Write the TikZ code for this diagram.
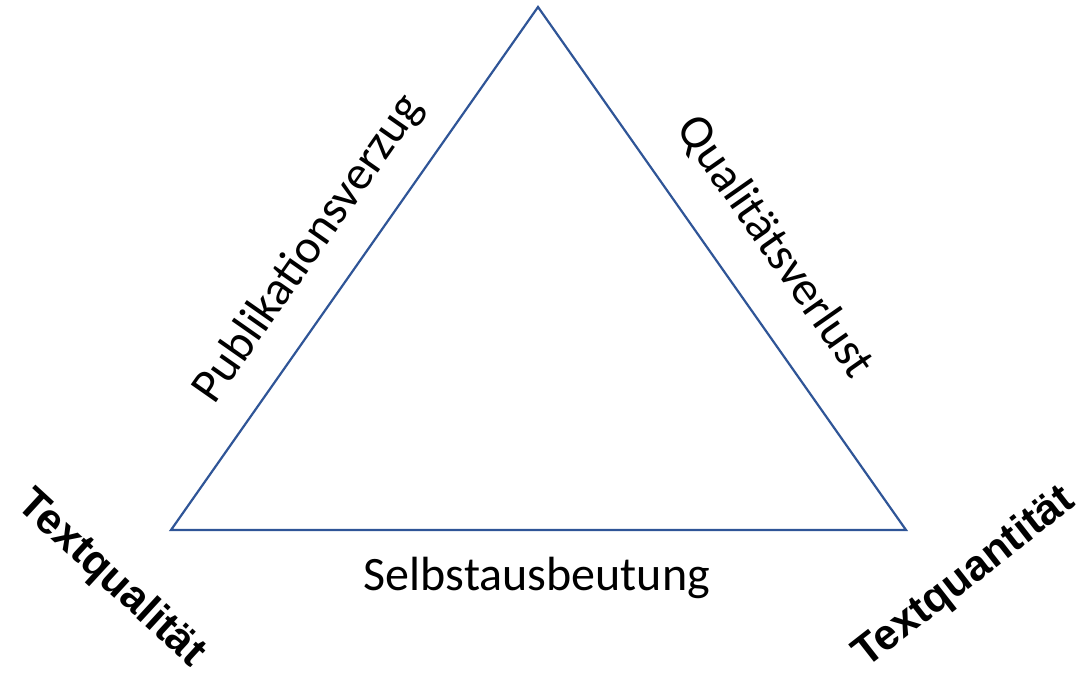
\documentclass[tikz,border=0pt]{standalone}
\usepackage{fontspec}
\setmainfont{Carlito}
\newfontfamily\labelfont{Liberation Sans}
\definecolor{edgeblue}{RGB}{47,85,151}
\begin{document}
\begin{tikzpicture}[x=1pt,y=-1pt,
  edge/.style={draw=edgeblue,line width=2.2pt,line join=miter},
  sidelabel/.style={font=\fontsize{48}{56}\selectfont,inner sep=0pt},
  cornerlabel/.style={font=\labelfont\bfseries\fontsize{43}{50}\selectfont,inner sep=0pt}]
  \useasboundingbox (0,0) rectangle (1082,674);
  % triangle corners
  \coordinate (top) at (538,7);
  \coordinate (left) at (171,530);
  \coordinate (right) at (906,530);
  \draw[edge] (top) -- (right) -- (left) -- cycle;
  % side labels
  \node[sidelabel,rotate=55] (pub) at (309,249) {Publikationsverzug};
  \node[sidelabel,rotate=-55] (qual) at (775,247) {Qualitätsverlust};
  \node[sidelabel] (selbst) at (537,578) {Selbstausbeutung};
  % corner labels
  \node[cornerlabel,rotate=-42.6] (tql) at (111,579) {Textqualität};
  \node[cornerlabel,rotate=38] (tqn) at (965,578) {Textquantität};
\end{tikzpicture}
\end{document}
